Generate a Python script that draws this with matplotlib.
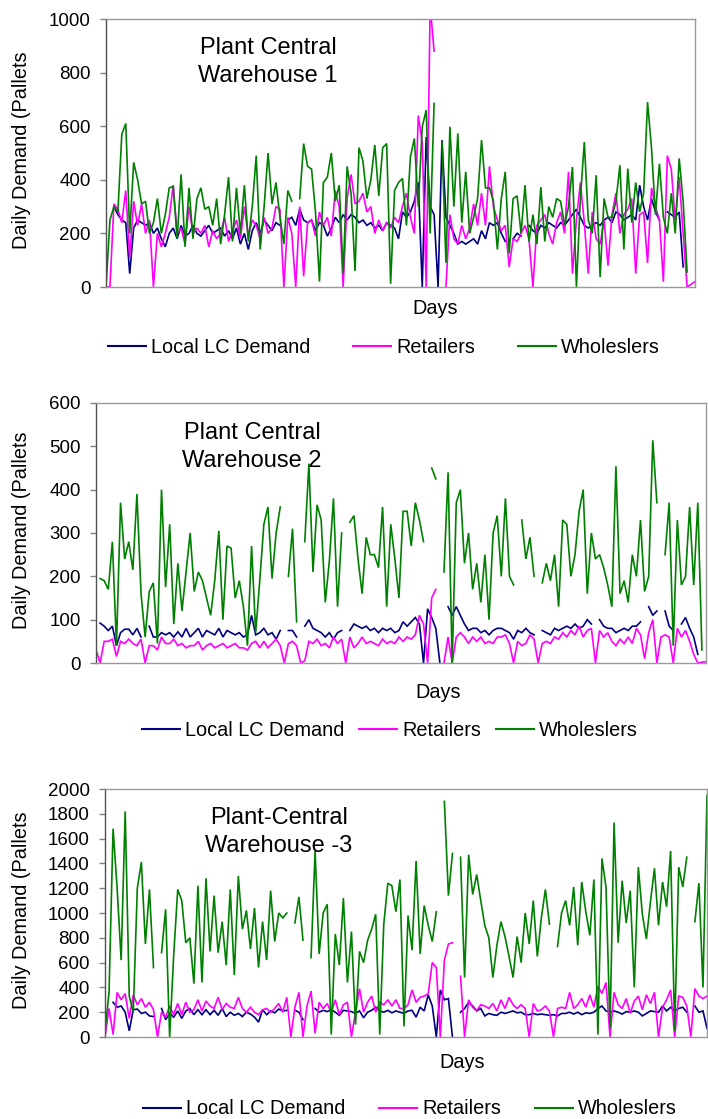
import numpy as np
import matplotlib
matplotlib.use("Agg")
import matplotlib.pyplot as plt
from matplotlib.lines import Line2D

nan = np.nan
plt.rcParams['font.family'] = ['Liberation Sans', 'DejaVu Sans']

series_names = ["Local LC Demand", "Retailers", "Wholeslers"]
series_colors = ["#000080", "#FF00FF", "#008000"]

# ---------------- Plant Central Warehouse 1 ----------------
local_1 = [nan,nan,300,270,250,240,50,220,250,240,
           230,240,200,220,180,150,200,220,180,230,
           190,200,230,200,190,210,230,200,210,220,
           190,210,180,220,160,200,140,210,240,200,
           250,230,210,240,230,nan,250,260,230,290,
           250,240,250,210,240,230,190,220,260,240,
           270,250,270,260,240,250,230,240,220,230,
           210,240,230,220,180,280,260,280,320,390,
           0,560,300,270,0,548,260,230,200,160,
           170,160,170,180,160,210,180,240,230,240,
           200,170,nan,180,200,190,nan,230,210,200,
           230,220,240,230,220,240,230,250,270,290,
           260,230,220,230,240,230,250,260,240,280,
           270,250,260,270,250,380,300,250,330,280,
           250,nan,280,270,260,280,75,nan,nan,nan]
retail_1 = [0,0,310,290,240,360,110,320,230,310,
            200,250,0,200,150,200,260,380,200,220,
            160,300,200,220,200,230,150,210,180,200,
            260,170,210,250,180,300,190,250,230,180,
            260,200,220,300,290,0,260,200,0,300,
            40,240,250,190,280,230,260,190,360,300,
            0,330,420,310,320,350,280,300,200,250,
            210,240,220,260,240,300,350,260,200,640,
            540,0,1050,880,nan,nan,0,270,180,160,
            230,180,220,310,230,350,230,450,300,250,
            210,230,75,180,170,200,230,180,0,230,
            250,270,200,160,240,280,200,430,50,250,
            390,240,50,280,180,160,250,80,270,350,
            200,270,290,330,50,270,280,90,370,300,
            250,20,490,440,250,410,200,0,10,20]
whole_1 = [0,250,300,280,570,610,200,465,400,310,
           320,200,240,330,200,270,370,375,180,420,
           150,370,180,330,370,290,300,230,330,160,
           270,410,170,370,200,380,170,300,490,140,
           300,500,310,390,260,160,360,320,nan,330,
           535,450,440,280,20,390,410,500,320,380,
           50,450,350,60,520,470,330,400,530,340,
           520,535,12,360,390,405,230,485,554,300,
           598,660,200,685,nan,540,90,598,300,573,
           240,430,200,260,330,548,370,370,320,140,
           330,430,125,330,340,200,380,170,270,160,
           373,170,300,260,330,320,230,300,448,0,
           330,541,250,200,417,37,330,260,260,320,
           454,140,442,240,390,280,350,690,517,270,
           460,260,200,350,200,480,320,56,nan,nan]

# ---------------- Plant Central Warehouse 2 ----------------
local_2 = [nan,92,85,75,85,40,70,78,78,65,
           80,60,nan,85,60,60,70,65,70,60,
           72,60,80,60,70,80,60,75,70,65,
           80,60,75,70,65,70,60,65,110,65,
           70,80,65,70,55,75,nan,75,75,60,
           nan,85,100,80,75,70,60,70,55,70,
           75,nan,75,90,85,80,85,75,80,70,
           80,75,80,70,75,95,85,95,105,90,
           0,125,105,80,0,nan,130,110,130,110,
           90,75,80,80,70,75,65,75,80,80,
           75,70,55,75,70,80,70,65,nan,75,
           70,65,80,75,80,85,80,90,80,85,
           100,90,nan,100,85,80,80,70,75,80,
           75,85,85,95,nan,130,110,120,nan,120,
           85,75,nan,90,105,80,60,20,nan,nan]
retail_2 = [30,0,50,50,55,15,50,45,55,45,
            40,55,0,40,40,30,60,45,45,55,
            40,45,35,40,40,50,30,40,45,35,
            40,45,35,40,45,35,35,30,45,50,
            35,50,35,45,55,40,0,45,50,40,
            0,5,50,45,55,40,45,35,60,45,
            55,0,60,35,45,60,45,50,45,40,
            55,45,50,45,60,50,60,55,65,110,
            90,0,150,170,nan,0,60,0,60,70,
            60,45,60,50,60,45,50,45,60,60,
            65,45,0,50,40,45,65,55,0,45,
            50,45,60,55,70,60,75,65,85,60,
            75,80,0,75,60,70,50,40,55,45,
            60,45,80,65,10,70,100,0,60,65,
            60,0,80,60,75,50,20,0,2,3]
whole_2 = [nan,195,190,170,280,40,370,240,280,215,
           390,160,60,165,185,45,400,175,320,90,
           230,120,210,300,165,210,190,150,110,190,
           305,100,270,265,150,190,130,40,270,70,
           190,320,360,195,300,360,nan,200,310,95,
           nan,280,460,210,365,330,140,235,380,130,
           300,nan,325,340,240,160,290,250,250,220,
           360,130,320,240,150,350,350,270,370,330,
           280,nan,450,425,nan,210,440,0,370,400,
           230,300,170,230,140,250,100,300,340,200,
           380,200,180,nan,330,240,290,200,nan,185,
           230,190,250,130,330,320,200,250,350,400,
           160,300,240,250,220,180,130,454,160,190,
           140,250,200,330,165,200,514,370,nan,250,
           370,40,330,180,200,360,180,370,30,nan]

# ---------------- Plant-Central Warehouse -3 ----------------
local_3 = [nan,nan,280,240,250,200,50,220,225,190,
           200,170,165,nan,230,140,190,160,210,150,
           210,230,180,220,180,220,180,215,175,230,
           165,200,175,190,165,200,185,160,120,220,
           180,210,195,225,210,215,nan,215,200,140,
           nan,nan,230,200,215,205,220,200,175,215,
           210,205,190,210,155,200,215,240,210,200,
           215,195,210,200,190,210,215,160,240,210,
           340,250,0,380,300,310,0,nan,200,230,
           280,250,210,230,170,190,180,175,200,190,
           200,210,195,200,180,180,190,180,185,180,
           175,180,170,190,190,200,185,200,180,195,
           190,200,230,250,210,200,210,200,185,205,
           200,210,200,170,190,210,205,200,250,210,
           240,210,230,240,200,nan,250,200,210,70]
retail_3 = [0,230,20,360,300,350,150,340,260,310,
            240,280,220,0,200,160,250,180,270,180,
            280,200,220,300,210,290,250,230,320,220,
            270,240,230,320,230,200,240,200,180,220,
            230,200,230,270,200,320,0,240,360,0,
            250,370,30,280,230,270,200,300,180,260,
            280,0,200,390,200,280,330,200,280,260,
            300,250,300,230,230,260,380,280,320,330,
            350,600,560,0,620,750,760,nan,490,0,
            300,240,210,260,250,230,270,210,300,230,
            320,260,230,260,230,0,270,210,220,250,
            210,0,230,240,230,360,230,260,310,240,
            340,240,410,350,440,0,360,260,230,310,
            190,290,330,220,340,270,360,0,240,300,
            380,0,330,320,250,0,390,330,310,330]
whole_3 = [50,360,1680,1200,620,1820,330,200,1200,1410,
           750,1190,560,nan,680,1030,0,660,1190,1100,
           760,800,430,1220,440,1280,690,1140,680,930,
           580,1190,500,1300,870,1020,710,1040,560,930,
           620,1180,770,1000,960,1000,nan,920,1130,780,
           nan,640,1500,670,1000,1070,20,830,580,1120,
           440,850,100,690,600,780,870,990,20,910,
           1240,1220,1010,1270,86,980,700,1420,670,1060,
           900,770,1010,nan,1900,1140,1480,nan,1450,480,
           1470,1150,1310,1100,900,800,480,740,930,810,
           650,480,810,600,1000,750,1100,650,960,1190,
           910,nan,730,1000,1100,900,1210,740,1250,1010,
           820,1270,20,1440,1210,70,1730,760,1260,920,
           1180,400,1370,990,790,1090,1360,900,1250,1050,
           1500,50,1370,1210,1450,nan,930,1240,400,1950]

panel_titles = ["Plant Central\nWarehouse 1", "Plant Central\nWarehouse 2",
                "Plant-Central\nWarehouse -3"]
y_ticks = [list(range(0, 1001, 200)), list(range(0, 601, 100)), list(range(0, 2001, 200))]
y_label = "Daily Demand (Pallets"
x_label = "Days"

panels = [
    dict(data=(local_1, retail_1, whole_1), rect=(106, 19, 695, 287),
         title_xy=(0.275, 0.84), days=(435, 309), leg=(108, 347), colsp=2.15),
    dict(data=(local_2, retail_2, whole_2), rect=(96, 403, 706, 663),
         title_xy=(0.256, 0.831), days=(438, 693), leg=(142, 730), colsp=0.75),
    dict(data=(local_3, retail_3, whole_3), rect=(105, 789, 707, 1037),
         title_xy=(0.289, 0.827), days=(462, 1063), leg=(143, 1109), colsp=1.7),
]

W, H = 708, 1119
fig = plt.figure(figsize=(W / 100, H / 100), dpi=100)

for k, p in enumerate(panels):
    x0, y0, x1, y1 = p["rect"]
    ax = fig.add_axes([x0 / W, 1 - y1 / H, (x1 - x0) / W, (y1 - y0) / H])
    for vals, col in zip(p["data"], series_colors):
        v = np.array(vals, dtype=float)
        ax.plot(np.arange(len(v)), v, color=col, lw=1.2, solid_joinstyle='miter')
    n = len(p["data"][0])
    ax.set_xlim(0, n - 1)
    ax.set_ylim(0, y_ticks[k][-1])
    ax.set_yticks(y_ticks[k])
    ax.set_xticks([])
    ax.tick_params(axis='y', direction='out', length=4.5, width=1, color='#808080',
                   pad=6.5, labelsize=13.5)
    for side in ['top', 'right', 'bottom']:
        ax.spines[side].set_color('#999999')
        ax.spines[side].set_linewidth(1.0)
    ax.spines['left'].set_color('#505050')
    ax.spines['left'].set_linewidth(1.0)
    ax.text(p["title_xy"][0], p["title_xy"][1], panel_titles[k], transform=ax.transAxes,
            ha='center', va='center', fontsize=17, linespacing=1.32)
    cy = (y0 + y1) / 2 - 3
    fig.text(22 / W, 1 - cy / H, y_label, rotation=90, ha='center', va='center', fontsize=14.3)
    fig.text(p["days"][0] / W, 1 - p["days"][1] / H, x_label, ha='center', va='center', fontsize=14.3)
    handles = [Line2D([], [], color=c, lw=1.5) for c in series_colors]
    fig.legend(handles, series_names, loc='center left',
               bbox_to_anchor=(p["leg"][0] / W, 1 - p["leg"][1] / H),
               ncol=3, frameon=False, fontsize=14.3, handlelength=1.9,
               handletextpad=0.27, columnspacing=p["colsp"], borderpad=0,
               borderaxespad=0)

fig.savefig("out.png", dpi=100)
